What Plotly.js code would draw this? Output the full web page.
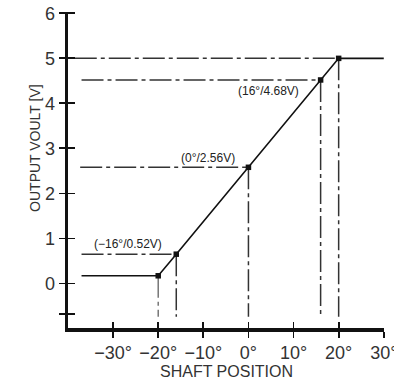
<!DOCTYPE html>
<html>
<head>
<meta charset="utf-8">
<script src="https://cdn.plot.ly/plotly-3.0.1.min.js"></script>
<style>html,body{margin:0;padding:0;background:#fff;}#chart{width:394px;height:382px;}</style>
</head>
<body>
<div id="chart"></div>
<script>
// Transfer curve (shaft position in degrees -> output volts)
const curveX = [-37, -20, -16, 0, 16, 20, 30];
const curveY = [0.17, 0.17, 0.65, 2.58, 4.52, 5.0, 5.0];
// Marked points
const pointX = [-20, -16, 0, 16, 20];
const pointY = [0.17, 0.65, 2.58, 4.52, 5.0];
// Horizontal guide lines (start x, to point index)
const hGuideStart = [-37, -37.3, -37, -38.5];
const hGuidePoint = [1, 2, 3, 4];
// Vertical guides drop to this value
const vGuideBottom = -0.74;
// Point labels
const labelText = ["(−16°/0.52V)", "(0°/2.56V)", "(16°/4.68V)"];
const labelX = [-26.7, -8.9, 4.4];
const labelY = [0.88, 2.78, 4.27];
// Axis ticks
const xTickVals = [-30, -20, -10, 0, 10, 20, 30];
const xTickText = ["−30°", "−20°", "−10°", "0°", "10°", "20°", "30°"];
const yTickVals = [-0.68, 0, 1, 2, 3, 4, 5, 6];
const yTickText = ["", "0", "1", "2", "3", "4", "5", "6"];
const xRange = [-40, 30.05];
const yRange = [-0.99, 6.03];

const tickFont = {family: "'Liberation Sans Narrow', 'Arial Narrow', 'Liberation Sans', Arial, sans-serif", size: 18, color: "#333"};
const guideStyle = {color: "#333", width: 1.5, dash: "22px,4px,4px,4px"};

const traces = [];
hGuidePoint.forEach((pi, i) => {
  traces.push({x: [hGuideStart[i], pointX[pi]], y: [pointY[pi], pointY[pi]], mode: "lines",
    line: guideStyle, hoverinfo: "skip", showlegend: false});
});
pointX.forEach((px, i) => {
  traces.push({x: [px, px], y: [pointY[i], vGuideBottom], mode: "lines",
    line: i === 0 ? {color: "#777", width: 1.5, dash: "22px,4px,4px,4px"} : guideStyle,
    hoverinfo: "skip", showlegend: false});
});
traces.push({x: curveX, y: curveY, mode: "lines", line: {color: "#111", width: 1.6}, showlegend: false});
traces.push({x: pointX, y: pointY, mode: "markers", marker: {color: "#111", size: 5.5, symbol: "square"}, showlegend: false});

const annotations = labelText.map((t, i) => ({
  x: labelX[i], y: labelY[i], xref: "x", yref: "y", text: t, showarrow: false,
  font: {family: "'Liberation Sans', Arial, sans-serif", size: 12, color: "#222"}
}));
annotations.push({xref: "paper", yref: "paper", x: -0.136, y: 0.57, text: "OUTPUT VOULT [V]", textangle: -90,
  showarrow: false, font: {family: "'Liberation Sans', Arial, sans-serif", size: 14, color: "#333"}});
annotations.push({xref: "paper", yref: "paper", x: 0.5, y: -0.137, yanchor: "middle", text: "SHAFT POSITION",
  showarrow: false, font: {family: "'Liberation Sans', Arial, sans-serif", size: 16, color: "#333"}});

const layout = {
  width: 394, height: 382,
  margin: {l: 68, r: 10, t: 12, b: 54},
  paper_bgcolor: "#fff", plot_bgcolor: "#fff",
  xaxis: {range: xRange, showgrid: false, zeroline: false, showline: true, linecolor: "#111", linewidth: 3.5,
    ticks: "outside", ticklen: 6, tickwidth: 1.8, tickcolor: "#111",
    tickvals: xTickVals, ticktext: xTickText, tickfont: tickFont, ticklabeloverflow: "allow"},
  xaxis2: {range: xRange, overlaying: "x", anchor: "y", side: "bottom", showgrid: false, zeroline: false,
    showline: false, ticks: "inside", ticklen: 6, tickwidth: 1.8, tickcolor: "#111",
    tickvals: xTickVals, showticklabels: false},
  yaxis: {range: yRange, showgrid: false, zeroline: false, showline: true, linecolor: "#111", linewidth: 3.5,
    ticks: "outside", ticklen: 6, tickwidth: 1.8, tickcolor: "#111",
    tickvals: yTickVals, ticktext: yTickText, tickfont: tickFont},
  yaxis2: {range: yRange, overlaying: "y", anchor: "x", side: "left", showgrid: false, zeroline: false,
    showline: false, ticks: "inside", ticklen: 7, tickwidth: 1.8, tickcolor: "#111",
    tickvals: yTickVals, showticklabels: false},
  annotations: annotations,
  showlegend: false
};
// dummy trace to activate overlay axes
traces.push({x: [xRange[0]], y: [yRange[0]], xaxis: "x2", yaxis: "y2", mode: "markers", marker: {opacity: 0}, hoverinfo: "skip", showlegend: false});

Plotly.newPlot("chart", traces, layout, {staticPlot: true, displayModeBar: false});
</script>
</body>
</html>
